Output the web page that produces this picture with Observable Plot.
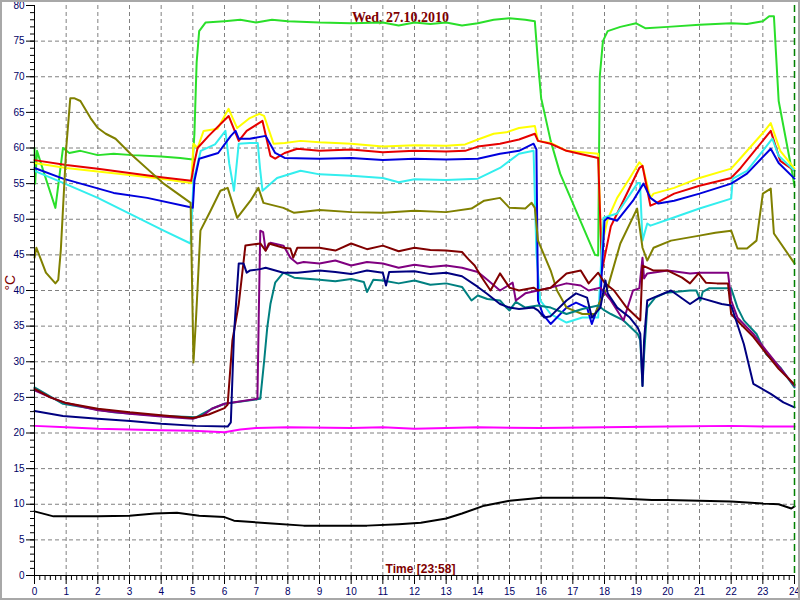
<!DOCTYPE html>
<html>
<head>
<meta charset="utf-8">
<script src="https://cdn.jsdelivr.net/npm/d3@7"></script>
<script src="https://cdn.jsdelivr.net/npm/@observablehq/plot@0.6"></script>
<style>
  html, body { margin: 0; padding: 0; background: #fff; }
  #chart svg { display: block; outline: 2px solid #a8a8a8; outline-offset: -2px; }
</style>
</head>
<body>
<div id="chart"></div>
<script>
const title = "Wed, 27.10.2010";
const xLabel = "Time [23:58]";
const yLabel = "°C";
const xTicks = d3.range(0, 25, 1);
const yTicks = d3.range(0, 81, 5);

const lime = [[0,60],[0.02,55],[0.08,59.6],[0.3,56.5],[0.66,51.6],[0.9,60],[1.1,59.3],[1.45,59.6],[2,59],[2.5,59.2],[3.1,59],[4,58.8],[4.6,58.6],[5,58.4],[5.05,62],[5.12,72],[5.2,76.4],[5.4,77.6],[6,77.8],[6.5,78],[7,77.6],[7.5,78],[8,77.8],[9,77.6],[10,77.5],[11,77.6],[11.5,77.2],[12,77.6],[12.5,77.4],[13,77.6],[13.5,77.2],[14,77.5],[14.5,78],[15,78.2],[15.5,78],[15.8,77.8],[15.9,72],[16,67],[16.3,61],[16.6,56.4],[17.1,51.2],[17.7,45],[17.8,44.9],[17.85,70],[17.95,75],[18.1,76.4],[18.5,77],[19,77.5],[19.3,76.8],[20,77],[21,77.3],[22,77.5],[22.5,77.4],[23,77.8],[23.2,78.5],[23.35,78.5],[23.5,66.6],[23.9,57.2],[24,54.7]];
const yellow = [[0,57.9],[1,57.2],[2,56.7],[3,56.2],[4,55.7],[4.95,55.1],[5.02,60.6],[5.15,60],[5.34,62.4],[5.78,62.7],[6.13,65.5],[6.4,62.8],[6.8,64.2],[7.1,64.8],[7.25,64.5],[7.55,60.6],[7.9,60.7],[8.4,61],[9,60.8],[10,60.6],[11,60.2],[12,60.4],[13,60.3],[13.6,60.5],[14,61.2],[14.5,62],[14.9,62.2],[15.3,62.8],[15.8,63.1],[15.9,61],[16.3,60.7],[16.8,59.6],[17.8,59.2],[17.9,46],[18.1,50],[18.4,53],[18.8,55.8],[19.1,58],[19.2,57.5],[19.45,53],[19.55,53.6],[20.2,54.4],[21,55.8],[22,57.1],[22.3,58.6],[23,62.1],[23.25,63.5],[23.55,59.6],[24,57.1]];
const red = [[0,58.3],[1,57.6],[2,57.1],[3,56.5],[4,55.9],[4.95,55.4],[5.05,58],[5.15,60],[5.5,61.7],[6.13,64.5],[6.45,61],[6.7,62.4],[7.2,63.8],[7.45,58.9],[7.6,58.5],[7.9,59.3],[8.3,59.9],[9,59.6],[10,59.8],[11,59.4],[12,59.6],[13,59.5],[13.6,59.6],[14,60.2],[14.7,60.6],[15.3,61.2],[15.8,62],[15.9,61],[16.3,60.6],[16.8,59.6],[17.8,58.6],[17.92,42.8],[18.2,49],[18.4,50.8],[19.1,57.2],[19.2,57.5],[19.45,51.9],[19.6,52.2],[20.2,53.6],[21,54.7],[22,55.8],[22.3,57.2],[23.25,62.4],[23.55,58.2],[24,56.8]];
const blue = [[0,57.2],[0.9,55.7],[2.5,53.7],[3.56,53],[5,51.6],[5.05,55.4],[5.2,58.5],[5.8,59.3],[6.2,61.7],[6.35,62.4],[6.45,61.3],[6.8,61.3],[7.3,61.7],[7.6,59.3],[7.9,58.6],[9,58.5],[10,58.6],[11,58.3],[12,58.5],[13,58.4],[14,58.5],[14.7,59.2],[15.3,59.6],[15.76,60.6],[15.85,59.8],[15.9,38.6],[16.05,36.7],[16.3,35.3],[16.8,37.6],[17.1,38.3],[17.45,37.6],[17.6,35.3],[17.87,38.6],[18,49.8],[18.1,50.2],[18.4,49.8],[18.9,52.6],[19.23,55],[19.45,53],[19.7,52.2],[20.2,52.6],[21,53.6],[22,55],[22.5,56.4],[23.25,59.9],[23.5,57.9],[24,55.7]];
const cyan = [[0,56.8],[0.9,55.1],[2,53],[3,50.8],[4.08,48.4],[4.93,46.6],[5.02,55.4],[5.25,59.6],[5.7,60.5],[6.03,62.4],[6.15,57.8],[6.3,54],[6.45,60.6],[6.8,60.7],[7.05,60.7],[7.12,57.2],[7.2,54],[7.66,55.8],[8.4,56.8],[9,56.3],[10,56.1],[11,55.8],[11.5,55.2],[12,55.6],[13,55.5],[14,55.7],[14.7,57.2],[15,58.2],[15.3,59.2],[15.76,59.6],[15.85,45.2],[15.97,38.6],[16.3,36.7],[16.8,35.5],[17.3,36.2],[17.8,36.2],[17.97,50.2],[18.4,50.8],[19.05,55.1],[19.12,55.1],[19.2,47],[19.35,49.4],[19.45,49.1],[20.1,50.1],[21,51.5],[22,52.9],[22.05,55.7],[22.5,56.8],[23.3,61.3],[23.5,58.9],[24,56.8]];
const olive = [[0,44.6],[0.06,46],[0.36,42.5],[0.66,41],[0.75,41.5],[0.83,45.6],[1.0,59.9],[1.13,67],[1.25,67],[1.45,66.6],[1.77,64.2],[2,62.8],[2.25,62],[2.56,61.3],[3.03,59.2],[4.08,55],[4.93,52.3],[5.02,29.9],[5.1,36],[5.24,48.4],[5.56,51.2],[5.87,54],[6.1,54.4],[6.4,50.2],[6.82,52.6],[7.07,54.4],[7.23,52.3],[7.86,51.6],[8.2,50.9],[9,51.3],[10,51],[11,50.9],[12,51.2],[13,51],[13.8,51.5],[14.2,52.6],[14.7,53],[15,51.6],[15.5,51.5],[15.7,52.3],[15.8,51.6],[15.9,47],[16.3,42.8],[16.5,40],[16.8,37.6],[17.3,36.7],[17.7,36.7],[17.87,38.6],[18.1,40.4],[18.5,46.6],[19.03,51.5],[19.2,46],[19.35,44.2],[19.55,46],[20.1,47],[21,47.7],[21.5,48.1],[22,48.4],[22.2,45.9],[22.5,45.9],[22.8,47],[23,53.6],[23.25,54.3],[23.35,48],[24,43.8]];
const maroon = [[0,26.2],[0.5,25],[1,24.2],[2,23.4],[3,22.9],[4,22.5],[5,22.1],[5.5,22.6],[6.0,23.5],[6.1,24],[6.25,33],[6.45,38.1],[6.66,46.3],[7.13,46.6],[7.3,45.6],[7.4,46.6],[7.86,46],[8.08,45.9],[8.17,44.6],[8.3,46],[9,46],[9.5,45.6],[10,46.6],[10.5,45.8],[11,46.3],[11.5,45.5],[12,46],[12.5,45.7],[13,45.6],[13.5,45.4],[13.7,44.4],[13.9,43.5],[14.1,42],[14.4,40],[14.7,42.4],[15,40.4],[15.3,40],[15.76,40.4],[15.9,40],[16.3,40.4],[16.8,42.4],[17.25,42.8],[17.5,41],[17.8,42.5],[18,41.1],[18.3,40],[18.7,37.6],[19.13,35.8],[19.2,43.5],[19.35,43.2],[19.55,42.8],[20,42.8],[20.45,41.8],[20.7,41],[20.97,42.4],[21.2,41.1],[21.55,41],[21.9,41],[22,36.7],[22.3,35.3],[22.7,33.5],[23.1,31.2],[23.5,29],[24,26.8]];
const purple = [[0,26],[0.5,25],[1,24.2],[2,23.2],[3,22.7],[4,22.3],[5,22],[5.3,22.4],[5.6,23.4],[6.0,24.1],[7.04,24.8],[7.08,36],[7.13,48.4],[7.22,48.2],[7.3,45.6],[7.45,46.7],[7.86,46.3],[8.08,44.6],[8.3,43.8],[8.5,44],[9,43.8],[9.5,44.2],[10,43.5],[10.5,44],[11,43.8],[11.5,43.2],[12,43.6],[12.5,43.3],[13,43.5],[13.5,43.2],[14,42.6],[14.3,41.5],[14.7,40],[15.1,41.1],[15.2,38.6],[15.5,39.6],[15.9,40],[16.3,40.4],[16.8,41],[17.25,40.7],[17.5,40],[17.87,40.4],[18.2,38.6],[18.6,35.8],[18.9,40],[19.1,40.3],[19.2,44.6],[19.25,41.7],[19.35,42.4],[20,42.8],[20.7,42.4],[21,42.5],[21.9,42.5],[22,38.6],[22.2,36.2],[22.7,33.9],[23.1,31.6],[24,26.6]];
const navy = [[0,23.1],[0.9,22.4],[2,22],[3.03,21.7],[4,21.3],[5.1,21],[6.1,20.9],[6.2,21.5],[6.3,33.9],[6.45,43.8],[6.6,43.8],[6.7,42.5],[6.8,42.8],[7.13,43],[7.3,43.2],[7.86,42.5],[8.3,42.5],[9,42.8],[9.5,42.6],[10,42.3],[10.5,42.8],[11,42.5],[11.1,40.7],[11.2,42.6],[12,42.7],[12.5,42.3],[13,42.5],[13.5,42],[14,40.5],[14.3,39.5],[14.7,38.1],[15,37.6],[15.3,37.4],[15.76,37.6],[15.9,37.2],[16.1,36.2],[16.3,36.4],[16.8,38.6],[17.1,39.6],[17.45,39],[17.6,36.2],[17.87,37.6],[18.03,41.4],[18.1,39.6],[18.4,37.6],[18.8,36.2],[19.05,34.8],[19.13,33.9],[19.2,26.6],[19.25,33],[19.35,38.6],[19.55,39],[20.1,40],[20.7,38.1],[21,39],[21.7,38.1],[22,37.9],[22.4,32.5],[22.7,26.9],[23.25,25.5],[23.65,24.3],[24,23.6]];
const teal = [[0,26.4],[0.9,24.1],[2.5,22.9],[4.08,22.4],[5.1,22.2],[5.3,22.7],[5.6,23.4],[6,24.1],[7.13,24.8],[7.25,30],[7.35,34.8],[7.45,38.1],[7.6,41.1],[7.86,42.5],[8.2,41.8],[9,41.5],[9.5,41.3],[10,41.6],[10.4,41.2],[10.5,39.8],[10.7,41.5],[11,41.4],[11.5,41],[12,41.4],[12.5,40.8],[13,41],[13.5,40.5],[13.8,38.6],[14,39.3],[14.3,38.8],[14.7,38.6],[14.9,37.6],[15,37.2],[15.2,38.4],[15.5,37.6],[15.9,37.9],[16.3,37.6],[16.8,36.7],[17.3,37.4],[17.8,37.9],[18,37.2],[18.2,36.7],[18.6,35.8],[19.05,33.9],[19.13,33],[19.2,26.6],[19.25,31],[19.35,37.6],[19.6,39],[19.95,39.7],[20.7,40],[20.9,40],[21.03,38.6],[21.1,39.8],[21.3,40.3],[22,40.3],[22.2,37.6],[22.4,35.8],[22.8,33.9],[23.1,31.1],[23.55,29.2],[24,26.4]];
const magenta = [[0,21],[1,20.8],[2,20.6],[3,20.5],[4,20.4],[5,20.3],[6,20.1],[6.5,20.5],[7,20.7],[8,20.8],[10,20.7],[11,20.8],[12,20.6],[14,20.8],[16,20.7],[18,20.8],[20,20.9],[22,21],[23,20.9],[24,20.9]];
const black = [[0,9],[0.6,8.3],[2,8.3],[3,8.4],[3.8,8.7],[4.5,8.8],[5.2,8.4],[6,8.2],[6.3,7.7],[7.5,7.3],[8.5,7],[9.5,7],[10.5,7],[11.5,7.2],[12.2,7.4],[13,8],[13.5,8.7],[14.2,9.8],[15,10.5],[16,10.9],[17,10.9],[18,10.9],[18.5,10.8],[19.5,10.6],[20,10.6],[21,10.5],[22,10.4],[23,10.1],[23.5,10],[23.9,9.4],[24,9.7]];

const seriesList = [
  [lime, "#2adf2a"], [yellow, "#ffff00"], [red, "#e60000"], [cyan, "#33eeee"], [blue, "#0000dd"],
  [olive, "#808000"], [teal, "#008080"], [purple, "#800080"], [maroon, "#800000"], [navy, "#000080"],
  [magenta, "#ff00ff"], [black, "#000000"]
];

const lineMarks = seriesList.map(([data, color]) =>
  Plot.line(data, {x: d => d[0], y: d => d[1], stroke: color, strokeWidth: 2})
);

const labelColor = "#000066";
const darkRed = "#800000";

const chart = Plot.plot({
  width: 800,
  height: 600,
  marginLeft: 34,
  marginRight: 6,
  marginTop: 5,
  marginBottom: 25,
  style: {background: "#ffffff", fontFamily: "Liberation Sans, Arial, sans-serif"},
  x: {domain: [0, 24], axis: null},
  y: {domain: [0, 80], axis: null},
  marks: [
    Plot.gridX(d3.range(1, 24), {stroke: "#808080", strokeOpacity: 1, strokeDasharray: "4,3"}),
    Plot.gridY(d3.range(5, 80, 5), {stroke: "#808080", strokeOpacity: 1, strokeDasharray: "4,3"}),
    Plot.text([title], {frameAnchor: "top", dx: -14, dy: 12, lineAnchor: "middle", fill: darkRed, fontSize: 14, fontWeight: "bold", fontFamily: "Liberation Serif, serif"}),
    Plot.text([xLabel], {frameAnchor: "bottom", dx: 6, dy: -6, lineAnchor: "middle", fill: darkRed, fontSize: 12, fontWeight: "bold"}),
    ...lineMarks,
    Plot.ruleX([24], {stroke: "#008000", strokeWidth: 1.5, strokeDasharray: "7,4"}),
    Plot.ruleX([0], {stroke: "#000"}),
    Plot.ruleY([0], {stroke: "#000"}),
    Plot.axisY(yTicks, {tickSize: 8, tickPadding: 2, fontSize: 10, color: labelColor, stroke: "#000", label: null}),
    Plot.axisY(d3.range(0, 81, 1), {tickSize: 4, tickFormat: () => "", label: null, stroke: "#000"}),
    Plot.axisX(xTicks, {tickSize: 9, tickPadding: 3, fontSize: 10, color: labelColor, stroke: "#000", label: null}),
    Plot.axisX(d3.range(0, 24 * 6 + 1).map(i => i / 6), {tickSize: 5, tickFormat: () => "", label: null, stroke: "#000"}),
    Plot.text([yLabel], {frameAnchor: "left", dx: -24, rotate: -90, fill: darkRed, fontSize: 14})
  ]
});

document.getElementById("chart").appendChild(chart);
</script>
</body>
</html>
